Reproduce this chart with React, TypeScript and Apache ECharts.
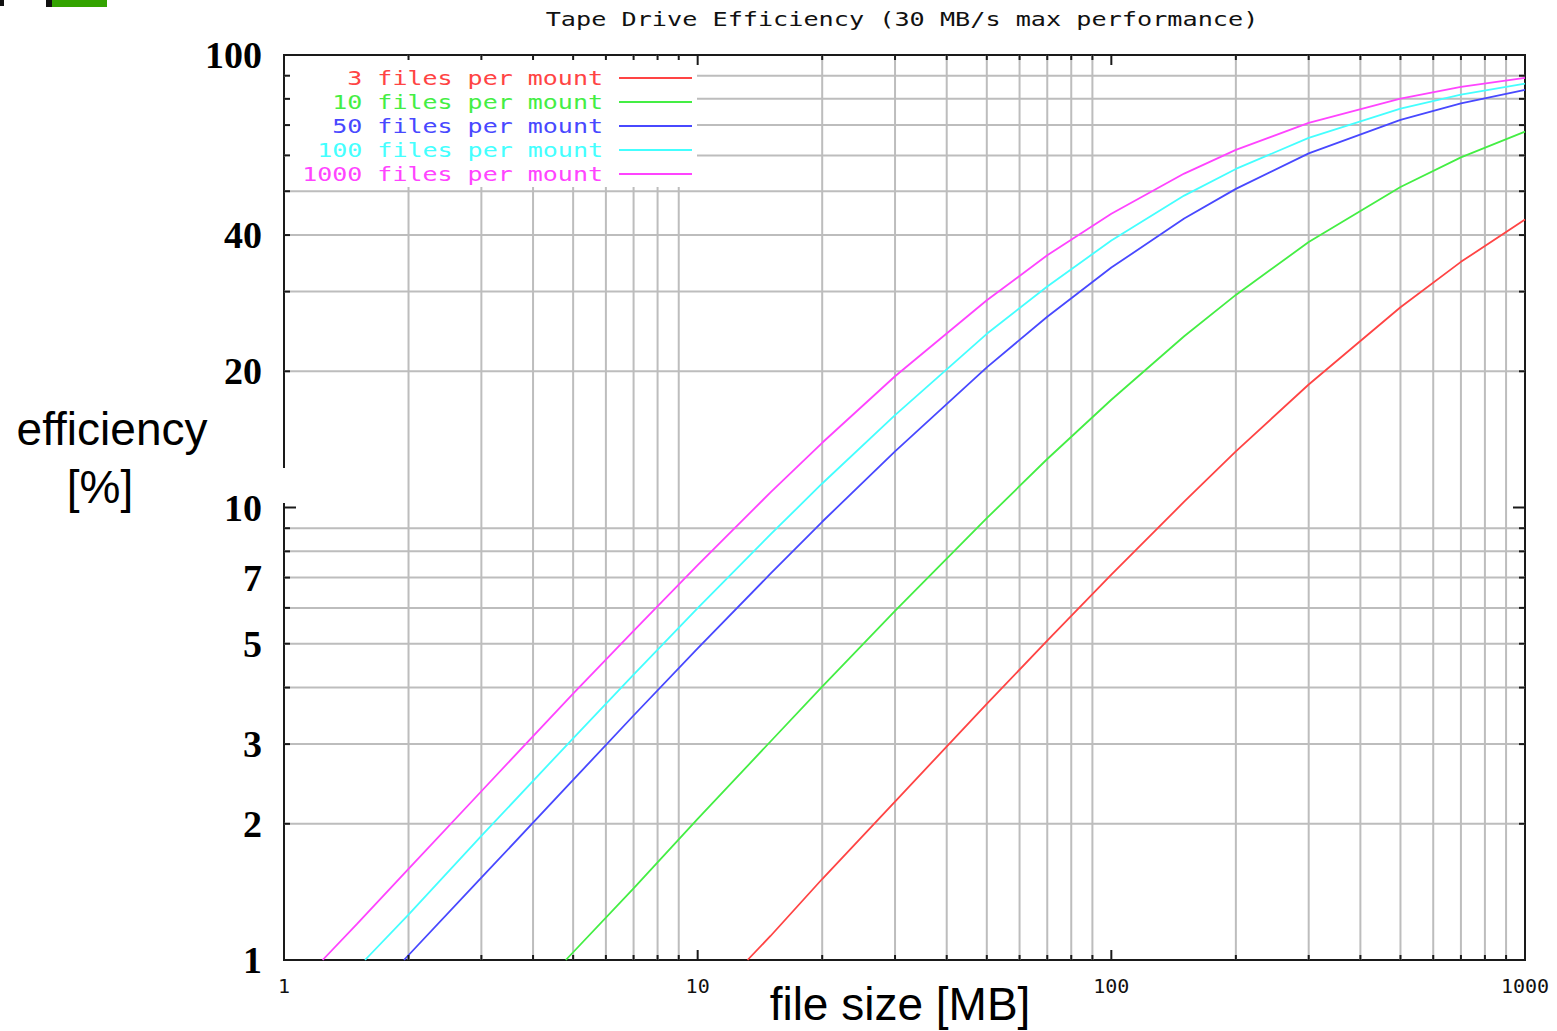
import React, { useEffect, useRef } from 'react';
import * as echarts from 'echarts';

// ---------- text ----------
const TITLE = 'Tape Drive Efficiency (30 MB/s max performance)';
const X_TITLE = 'file size [MB]';
const Y_TITLE_1 = 'efficiency';
const Y_TITLE_2 = '[%]';

// ---------- axes ----------
const X_RANGE = [1, 1000];
const Y_RANGE = [1, 100];
const yLabelValues = [1, 2, 3, 5, 7, 10, 20, 40, 100];
const xMajorTicks = [1, 10, 100, 1000];
const xMinorTicks = [2, 3, 4, 5, 6, 7, 8, 9, 20, 30, 40, 50, 60, 70, 80, 90, 200, 300, 400, 500, 600, 700, 800, 900];
const yMajorTicks = [1, 10, 100];
const yMinorTicks = [2, 3, 4, 5, 6, 7, 8, 9, 20, 30, 40, 50, 60, 70, 80, 90];

// ---------- series ----------
const seriesNames = [
  '3 files per mount',
  '10 files per mount',
  '50 files per mount',
  '100 files per mount',
  '1000 files per mount',
];

const size3 = [13.2, 15, 20, 30, 50, 70, 100, 150, 200, 300, 500, 700, 1000];
const eff3 = [1.0, 1.13, 1.51, 2.24, 3.68, 5.08, 7.11, 10.3, 13.3, 18.7, 27.7, 34.9, 43.3];

const size10 = [4.8, 7, 10, 15, 20, 30, 50, 70, 100, 150, 200, 300, 500, 700, 1000];
const eff10 = [1.0, 1.44, 2.05, 3.04, 4.02, 5.91, 9.47, 12.8, 17.3, 23.9, 29.5, 38.6, 51.1, 59.4, 67.7];

const size50 = [1.95, 3, 5, 7, 10, 15, 20, 30, 50, 70, 100, 150, 200, 300, 500, 700, 1000];
const eff50 = [1.0, 1.52, 2.5, 3.47, 4.88, 7.14, 9.3, 13.3, 20.4, 26.4, 33.9, 43.5, 50.6, 60.6, 71.9, 78.2, 83.7];

const size100 = [1.57, 2, 3, 5, 7, 10, 15, 20, 30, 50, 70, 100, 150, 200, 300, 500, 700, 1000];
const eff100 = [1.0, 1.26, 1.88, 3.09, 4.27, 5.99, 8.72, 11.3, 16.0, 24.2, 30.8, 38.9, 48.9, 56.0, 65.6, 76.1, 81.7, 86.4];

const size1000 = [1.24, 1.5, 2, 3, 5, 7, 10, 15, 20, 30, 50, 70, 100, 150, 200, 300, 500, 700, 1000];
const eff1000 = [1.0, 1.2, 1.59, 2.36, 3.88, 5.34, 7.46, 10.8, 13.9, 19.5, 28.7, 36.1, 44.6, 54.7, 61.7, 70.8, 80.1, 85.0, 89.0];

const seriesSizes = [size3, size10, size50, size100, size1000];
const seriesEffs = [eff3, eff10, eff50, eff100, eff1000];

// ---------- styles ----------
const COLORS = ['#ff4444', '#44ee44', '#4848ff', '#44ffff', '#ff44ff'];
const MONO = '"DejaVu Sans Mono", monospace';
const SANS = '"Liberation Sans", Arial, sans-serif';
const GRID_COLOR = '#bdbdbd';
const FRAME_COLOR = '#1a1a1a';

function xRenderer(len: number, mode: 'grid' | 'tick') {
  return (_params: any, api: any) => {
    const v = api.value(0);
    const b = api.coord([v, Y_RANGE[0]]);
    const t = api.coord([v, Y_RANGE[1]]);
    if (mode === 'grid') {
      return { type: 'line', shape: { x1: b[0], y1: b[1], x2: t[0], y2: t[1] }, style: { stroke: GRID_COLOR, lineWidth: 2 } };
    }
    return {
      type: 'group',
      children: [
        { type: 'line', shape: { x1: b[0], y1: b[1], x2: b[0], y2: b[1] - len }, style: { stroke: FRAME_COLOR, lineWidth: 2 } },
        { type: 'line', shape: { x1: t[0], y1: t[1], x2: t[0], y2: t[1] + len }, style: { stroke: FRAME_COLOR, lineWidth: 2 } },
      ],
    };
  };
}

function yRenderer(len: number, mode: 'grid' | 'tick') {
  return (_params: any, api: any) => {
    const v = api.value(1);
    const l = api.coord([X_RANGE[0], v]);
    const r = api.coord([X_RANGE[1], v]);
    if (mode === 'grid') {
      return { type: 'line', shape: { x1: l[0], y1: l[1], x2: r[0], y2: r[1] }, style: { stroke: GRID_COLOR, lineWidth: 2 } };
    }
    return {
      type: 'group',
      children: [
        { type: 'line', shape: { x1: l[0], y1: l[1], x2: l[0] + len, y2: l[1] }, style: { stroke: FRAME_COLOR, lineWidth: 2 } },
        { type: 'line', shape: { x1: r[0], y1: r[1], x2: r[0] - len, y2: r[1] }, style: { stroke: FRAME_COLOR, lineWidth: 2 } },
      ],
    };
  };
}

export default function App() {
  const ref = useRef<HTMLDivElement>(null);

  useEffect(() => {
    if (!ref.current) return;
    const chart = echarts.init(ref.current, undefined, { renderer: 'svg' });

    const legendX = 603;
    const legendY0 = 78;
    const legendStep = 24;

    const legendGraphics: any[] = [];
    seriesNames.forEach((name, i) => {
      const y = legendY0 + i * legendStep;
      legendGraphics.push({
        type: 'text',
        x: legendX,
        y,
        scaleX: 1.25,
        z: 50,
        style: { text: name, fill: COLORS[i], font: `20px ${MONO}`, align: 'right', verticalAlign: 'middle' },
      });
      legendGraphics.push({
        type: 'line',
        z: 50,
        shape: { x1: 619, y1: y, x2: 692, y2: y },
        style: { stroke: COLORS[i], lineWidth: 2 },
      });
    });

    const option: any = {
      animation: false,
      backgroundColor: '#ffffff',
      grid: {
        left: 284,
        right: 32,
        top: 55,
        bottom: 71,
        show: true,
        borderColor: FRAME_COLOR,
        borderWidth: 2,
        containLabel: false,
        outerBoundsMode: 'none',
      },
      xAxis: {
        type: 'log',
        logBase: 10,
        min: X_RANGE[0],
        max: X_RANGE[1],
        axisLine: { show: false },
        axisTick: { show: false },
        splitLine: { show: false },
        axisLabel: {
          fontFamily: MONO,
          fontSize: 20,
          color: '#111',
          margin: 16,
          formatter: (v: number) => String(Math.round(v)),
        },
      },
      yAxis: {
        type: 'log',
        logBase: 10,
        min: Y_RANGE[0],
        max: Y_RANGE[1],
        axisLine: { show: false },
        axisTick: { show: false },
        splitLine: { show: false },
        axisLabel: {
          customValues: yLabelValues,
          fontFamily: '"Liberation Serif", "Times New Roman", serif',
          fontWeight: 'bold',
          fontSize: 38,
          color: '#000',
          margin: 22,
          formatter: (v: number) => String(Math.round(v)),
        },
      },
      graphic: [
        { type: 'rect', x: 0, y: 0, shape: { width: 4, height: 6 }, style: { fill: '#111' } },
        { type: 'rect', x: 46, y: 0, shape: { width: 6, height: 7 }, style: { fill: '#111' } },
        { type: 'rect', x: 52, y: 0, shape: { width: 55, height: 7 }, style: { fill: '#33a300' } },
        // legend box background (hides grid lines behind the key)
        { type: 'rect', x: 286, y: 57, z: 2, shape: { width: 411, height: 130 }, style: { fill: '#ffffff' } },
        { type: 'rect', x: 277, y: 468, z: 60, shape: { width: 14, height: 35 }, style: { fill: '#ffffff' } },
        {
          type: 'text', x: 902, y: 19, scaleX: 1.26,
          style: { text: TITLE, fill: '#111', font: `20px ${MONO}`, align: 'center', verticalAlign: 'middle' },
        },
        {
          type: 'text', x: 112, y: 429,
          style: { text: Y_TITLE_1, fill: '#000', font: `46px ${SANS}`, align: 'center', verticalAlign: 'middle' },
        },
        {
          type: 'text', x: 100, y: 487,
          style: { text: Y_TITLE_2, fill: '#000', font: `46px ${SANS}`, align: 'center', verticalAlign: 'middle' },
        },
        {
          type: 'text', x: 900, y: 1004,
          style: { text: X_TITLE, fill: '#000', font: `46px ${SANS}`, align: 'center', verticalAlign: 'middle' },
        },
        ...legendGraphics,
      ],
      series: [
        { type: 'custom', name: 'xgrid', silent: true, z: 1, data: xMinorTicks.map((v) => [v, Y_RANGE[0]]), renderItem: xRenderer(0, 'grid') },
        { type: 'custom', name: 'ygrid', silent: true, z: 1, data: yMinorTicks.map((v) => [X_RANGE[0], v]), renderItem: yRenderer(0, 'grid') },
        { type: 'custom', name: 'xminor', silent: true, z: 4, data: xMinorTicks.map((v) => [v, Y_RANGE[0]]), renderItem: xRenderer(5, 'tick') },
        { type: 'custom', name: 'xmajor', silent: true, z: 4, data: xMajorTicks.map((v) => [v, Y_RANGE[0]]), renderItem: xRenderer(10, 'tick') },
        { type: 'custom', name: 'yminor', silent: true, z: 4, data: yMinorTicks.map((v) => [X_RANGE[0], v]), renderItem: yRenderer(6, 'tick') },
        { type: 'custom', name: 'ymajor', silent: true, z: 4, data: yMajorTicks.map((v) => [X_RANGE[0], v]), renderItem: yRenderer(12, 'tick') },
        ...seriesNames.map((name, i) => ({
          type: 'line',
          name,
          z: 3,
          data: seriesSizes[i].map((s, j) => [s, seriesEffs[i][j]]),
          showSymbol: false,
          symbol: 'none',
          smooth: false,
          clip: true,
          lineStyle: { color: COLORS[i], width: 1.8 },
          itemStyle: { color: COLORS[i] },
        })),
      ],
    };

    chart.setOption(option);
    return () => chart.dispose();
  }, []);

  return (
    <div
      ref={ref}
      style={{ position: 'absolute', left: 0, top: 0, width: 1557, height: 1031, background: '#fff' }}
    />
  );
}
